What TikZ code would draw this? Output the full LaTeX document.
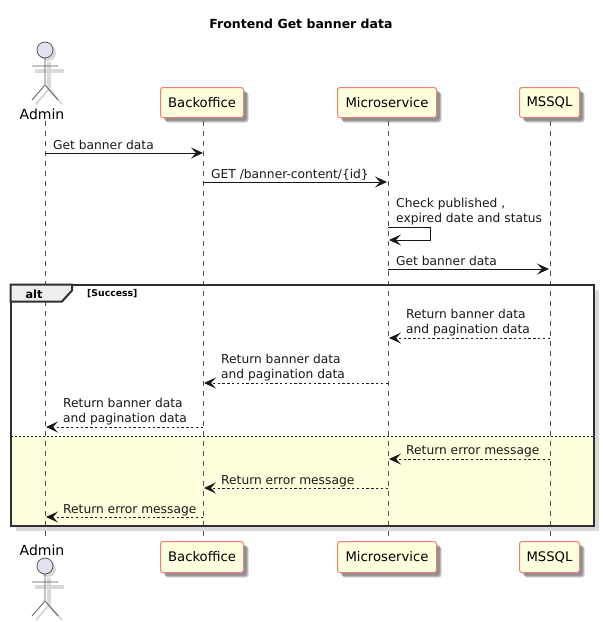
\documentclass[tikz,border=0pt]{standalone}
\usepackage{fontspec}
\setmainfont{DejaVu Sans}
\usetikzlibrary{arrows.meta,shadows}
\definecolor{boxfill}{HTML}{FEFFDD}
\definecolor{boxline}{HTML}{F07F78}
\definecolor{actorfill}{HTML}{E2E2F0}
\definecolor{inkline}{HTML}{181818}
\definecolor{lifeline}{HTML}{555555}
\definecolor{actorline}{HTML}{5A5A5A}
\definecolor{shadowgrey}{HTML}{D9D9D9}
\definecolor{tabfill}{HTML}{EEEEEE}
\tikzset{
  softshadow/.style={
    general shadow={fill=black,opacity=.16,draw=none,shadow xshift=3pt,shadow yshift=-3pt},
    general shadow={fill=black,opacity=.18,draw=none,shadow xshift=4pt,shadow yshift=-4pt},
    general shadow={fill=black,opacity=.18,draw=none,shadow xshift=5pt,shadow yshift=-5pt}},
  partbox/.style={softshadow,draw=boxline,fill=boxfill,line width=1pt,rounded corners=2.5pt,
    inner sep=0pt,font=\fontsize{13.2}{16}\selectfont,text=black},
  msgtext/.style={inner sep=0pt,anchor=base west,align=left,
    font=\fontsize{12.25}{15}\selectfont,text=black!90},
  msg/.style={draw=inkline,line width=.9pt,-{Stealth[length=12pt,width=11pt,inset=5pt]}},
  reply/.style={msg,dash pattern=on 2.4pt off 2.4pt},
  lifedash/.style={draw=lifeline,line width=.7pt,dash pattern=on 5pt off 5pt},
  stick/.style={draw=actorline,line width=.8pt},
  stickshadow/.style={draw=shadowgrey,line width=4pt},
  actorlabel/.style={inner sep=0pt,font=\fontsize{14}{16}\selectfont,text=black},
  framebox/.style={draw=inkline!90,line width=2pt},
}
\newcommand{\stickman}[2]{% #1 name, #2 head centre y
  \begin{scope}[shift={(45,#2)}]
    \fill[shadowgrey] (-10,18.5) rectangle (19,22.5);
    \draw[stickshadow] (4,12) -- (4,39);
    \draw[stickshadow,line width=2pt] (4,39) -- (-9,54) (4,39) -- (17,54);
    \fill[black,opacity=.15] (3,3) circle (8);
    \draw[stick,fill=actorfill] (0,0) circle (8);
    \draw[stick] (0,8) -- (0,35) (-13,16) -- (13,16) (-13,50) -- (0,35) -- (13,50);
    \coordinate (#1) at (0,0);
  \end{scope}}
\begin{document}
\begin{tikzpicture}[x=1pt,y=-1pt]
\useasboundingbox (0,0) rectangle (603,622);
\fill[white] (0,0) rectangle (603,622);

\node[inner sep=0pt,font=\bfseries\fontsize{12.5}{14}\selectfont,text=black] (title) at (301,24) {Frontend Get banner data};

% frame shadow and background
\coordinate (frameNW) at (10.5,284.5);
\coordinate (frameSE) at (593.5,525.5);
\fill[shadowgrey] (15.5,290) rectangle (599,531);
\fill[white] (frameNW) rectangle (frameSE);
\fill[boxfill] (10.5,436) rectangle (frameSE);

% participants
\node[partbox,minimum width=83pt,minimum height=30pt] (backT) at (202,102.5) {Backoffice};
\node[partbox,minimum width=99pt,minimum height=30pt] (microT) at (387,102.5) {Microservice};
\node[partbox,minimum width=60pt,minimum height=30pt] (sqlT) at (549.5,102.5) {MSSQL};
\node[partbox,minimum width=83pt,minimum height=31pt] (backB) at (202,557) {Backoffice};
\node[partbox,minimum width=99pt,minimum height=31pt] (microB) at (387,557) {Microservice};
\node[partbox,minimum width=60pt,minimum height=31pt] (sqlB) at (549.5,557) {MSSQL};

\stickman{headT}{50}
\node[actorlabel] (adminT) at (42,114) {Admin};
\node[actorlabel] (adminB) at (42,550) {Admin};
\stickman{headB}{566}

% lifeline anchors
\coordinate (la) at (45,0);
\coordinate (lb) at (203,0);
\coordinate (lm) at (388,0);
\coordinate (ls) at (550,0);
\draw[lifedash] (la |- 0,121) -- (la |- 0,537);
\draw[lifedash] (lb |- 0,121) -- (lb |- 0,537);
\draw[lifedash] (lm |- 0,121) -- (lm |- 0,537);
\draw[lifedash] (ls |- 0,121) -- (ls |- 0,537);

% frame
\draw[framebox] (frameNW) rectangle (frameSE);
\draw[framebox,fill=tabfill] (frameNW) -- (72,284.5) -- (72,290.5) -- (62,301.5) -- (10.5,301.5) -- cycle;
\node[inner sep=0pt,font=\bfseries\fontsize{11.3}{13}\selectfont,text=black] (alt) at (34,294) {alt};
\node[inner sep=0pt,anchor=base west,font=\bfseries\fontsize{9.3}{11}\selectfont,text=black] (guard) at (87,296.5) {[Success]};
\draw[inkline,line width=.9pt,dash pattern=on 2pt off 2pt] (10.5,436) -- (593.5,436);

% messages
\node[msgtext] (t1) at (53,149) {Get banner data};
\draw[msg] (la |- 0,153) -- (lb |- 0,153);
\node[msgtext] (t2) at (211,178) {GET /banner-content/\{id\}};
\draw[msg] (lb |- 0,182) -- (387,182);
\node[msgtext] (t3) at (396,222) {Check published ,\\expired date and status};
\coordinate (s1) at (430.5,227);
\coordinate (s2) at (430.5,240);
\draw[msg] (lm |- 0,227) -- (s1) -- (s2) -- (389,240);
\node[msgtext] (t4) at (396,265) {Get banner data};
\draw[msg] (lm |- 0,269) -- (549,269);

\node[msgtext] (t5) at (406,333.5) {Return banner data\\and pagination data};
\draw[reply] (ls |- 0,338) -- (389,338);
\node[msgtext] (t6) at (221,378) {Return banner data\\and pagination data};
\draw[reply] (lm |- 0,383) -- (204,383);
\node[msgtext] (t7) at (63,422.5) {Return banner data\\and pagination data};
\draw[reply] (lb |- 0,427) -- (46,427);

\node[msgtext] (t8) at (406,454.5) {Return error message};
\draw[reply] (ls |- 0,459) -- (389,459);
\node[msgtext] (t9) at (221,484) {Return error message};
\draw[reply] (lm |- 0,488) -- (204,488);
\node[msgtext] (t10) at (63,513) {Return error message};
\draw[reply] (lb |- 0,517) -- (46,517);
\end{tikzpicture}
\end{document}
